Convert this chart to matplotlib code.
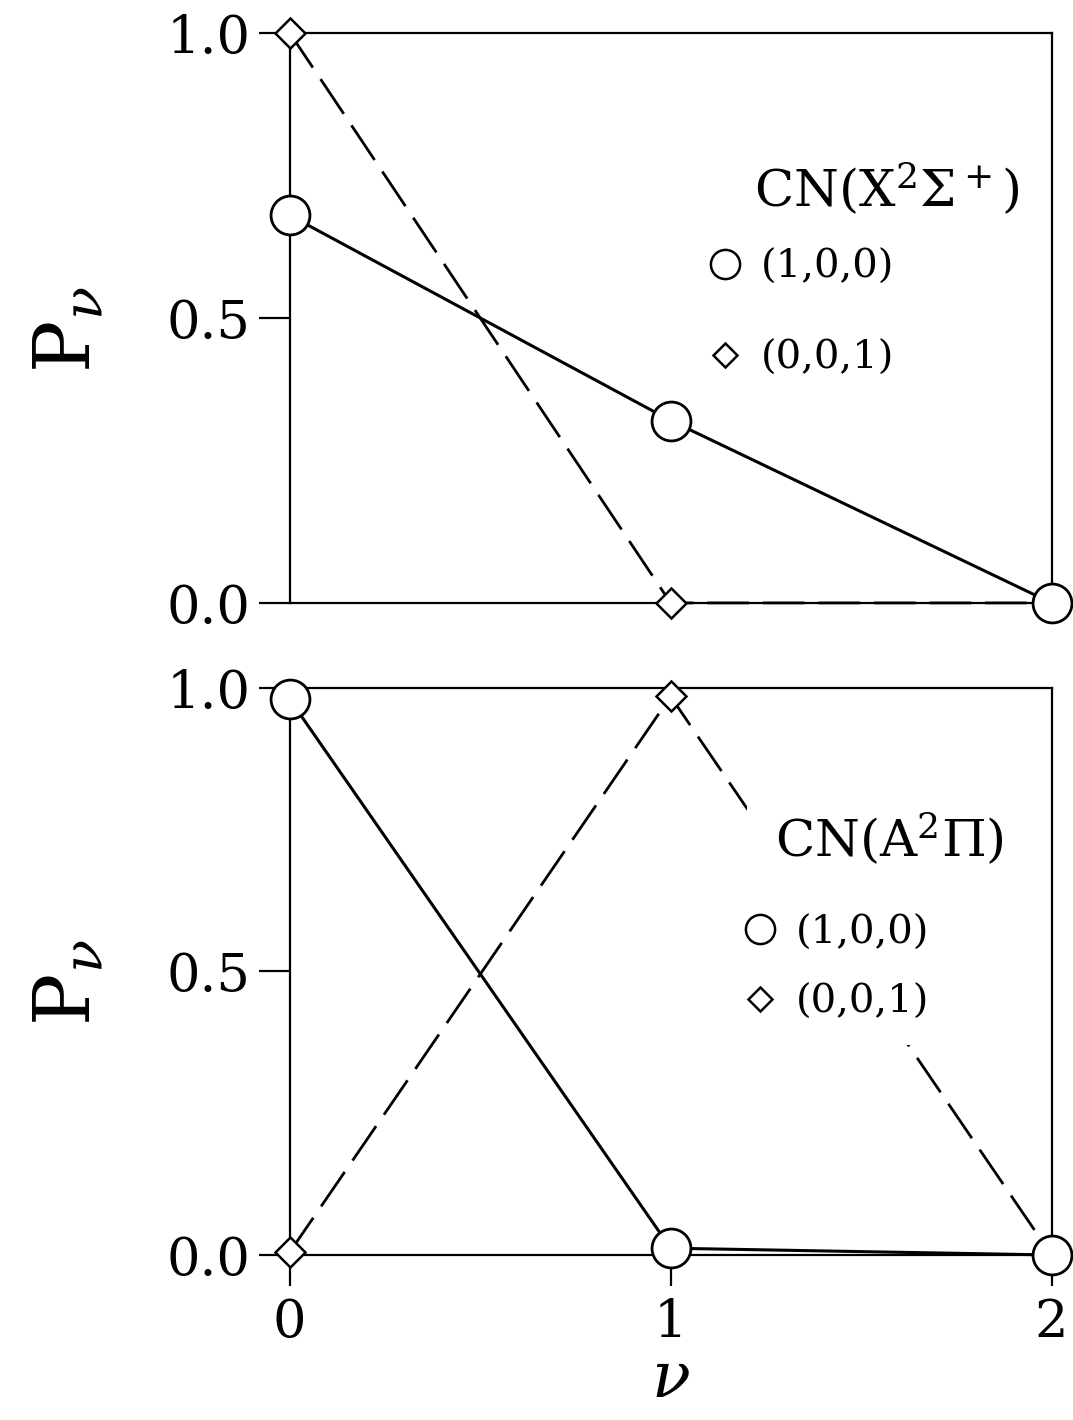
import matplotlib
matplotlib.use("Agg")
import matplotlib.pyplot as plt
from matplotlib.lines import Line2D

plt.rcParams['font.family'] = ['DejaVu Serif']
plt.rcParams['mathtext.fontset'] = 'dejavuserif'

v = [0, 1, 2]
labels = ['(1,0,0)', '(0,0,1)']

# CN(X2Sigma+) panel
x_100 = [0.68, 0.32, 0.0]
x_001 = [1.0, 0.0, 0.0]
# CN(A2Pi) panel
a_100 = [0.98, 0.012, 0.0]
a_001 = [0.005, 0.985, 0.0]

titles = [r'CN(X$^2\Sigma^+$)', r'CN(A$^2\Pi$)']

fig = plt.figure(figsize=(10.73, 14.2), dpi=100)
ax1 = fig.add_axes([0.270, 0.5754, 0.710, 0.4014])
ax2 = fig.add_axes([0.270, 0.1162, 0.710, 0.3993])

def panel(ax, c, d, title, title_xy, leg_anchor, spacing, show_x):
    ax.plot(v, d, color='black', lw=2, dashes=(15, 5), marker='D', ms=15,
            mfc='white', mec='black', mew=1.8, clip_on=False, zorder=3)
    ax.plot(v, c, color='black', lw=2.2, marker='o', ms=28,
            mfc='white', mec='black', mew=2, clip_on=False, zorder=4)
    ax.set_xlim(0, 2)
    ax.set_ylim(0, 1)
    ax.set_yticks([0, 0.5, 1.0])
    ax.set_yticklabels(['0.0', '0.5', '1.0'])
    for s in ax.spines.values():
        s.set_linewidth(1.6)
    ax.tick_params(axis='y', direction='out', length=22, width=1.6,
                   labelsize=38, pad=6)
    if show_x:
        ax.set_xticks(v)
        ax.tick_params(axis='x', direction='out', length=22, width=1.6,
                       labelsize=38, pad=8)
    else:
        ax.set_xticks([])
    ax.set_ylabel(r'$\mathrm{P}_{\nu}$', fontsize=56)
    ax.yaxis.set_label_coords(-0.24, 0.48)
    ax.text(title_xy[0], title_xy[1], title, transform=ax.transAxes,
            ha='center', va='center', fontsize=37, zorder=6,
            bbox=dict(boxstyle='square,pad=0.55', facecolor='white',
                      edgecolor='none'))
    handles = [Line2D([], [], ls='none', marker='o', ms=21, mfc='white',
                      mec='black', mew=1.8),
               Line2D([], [], ls='none', marker='D', ms=12, mfc='white',
                      mec='black', mew=1.8)]
    leg = ax.legend(handles, labels, loc='upper left',
                    bbox_to_anchor=leg_anchor, borderaxespad=0, fontsize=29,
                    frameon=True, handlelength=0.8, handletextpad=0.5,
                    labelspacing=spacing, borderpad=0.6, fancybox=False)
    leg.get_frame().set_facecolor('white')
    leg.get_frame().set_edgecolor('none')
    leg.get_frame().set_alpha(1)
    leg.set_zorder(5)

panel(ax1, x_100, x_001, titles[0], (0.783, 0.725), (0.518, 0.664), 1.35, False)
panel(ax2, a_100, a_001, titles[1], (0.787, 0.732), (0.564, 0.643), 0.8, True)
ax2.set_xlabel(r'$\nu$', fontsize=46)
ax2.xaxis.set_label_coords(0.5, -0.165)

fig.savefig('out.png', dpi=100)
